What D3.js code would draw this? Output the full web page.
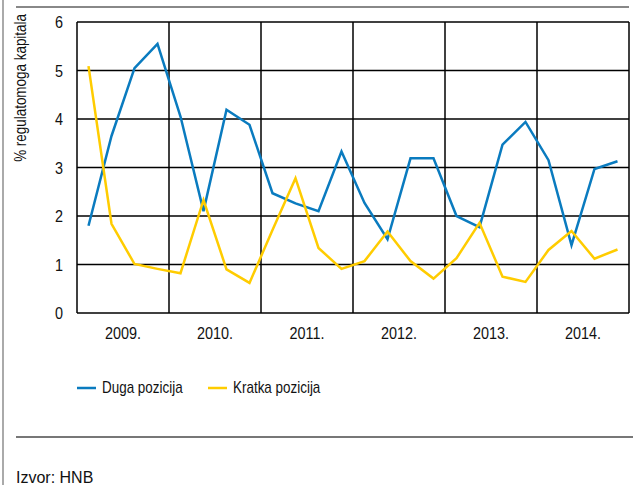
<!DOCTYPE html>
<html>
<head>
<meta charset="utf-8">
<script src="https://cdn.jsdelivr.net/npm/d3@7"></script>
<style>
  body { margin: 0; background: #fff; }
  svg text { font-family: "Liberation Sans Narrow", "Arial Narrow", "Liberation Sans", Arial, sans-serif; fill: #111; }
</style>
</head>
<body>
<svg id="chart" width="633" height="485"></svg>
<script>
// quarterly values 2009 Q1 - 2014 Q4
let years = ["2009.", "2010.", "2011.", "2012.", "2013.", "2014."];
let duga = [1.80, 3.65, 5.05, 5.55, 4.05, 2.10, 4.19, 3.88, 2.47, 2.26, 2.10, 3.33,
            2.27, 1.52, 3.19, 3.19, 2.00, 1.77, 3.47, 3.94, 3.15, 1.40, 2.97, 3.13];
let kratka = [5.09, 1.84, 1.01, 0.91, 0.82, 2.33, 0.90, 0.62, 1.71, 2.78, 1.34, 0.91,
              1.07, 1.68, 1.07, 0.71, 1.13, 1.86, 0.75, 0.64, 1.30, 1.69, 1.12, 1.31];
let yTicks = [0, 1, 2, 3, 4, 5, 6];
let seriesNames = ["Duga pozicija", "Kratka pozicija"];
let colors = ["#0a7bbf", "#ffcc00"];

let svg = d3.select("#chart");
let plotL = 77, plotR = 629, plotT = 22, plotB = 313;
let narrow = 0.84; // no narrow font installed, squeeze the regular one

let x = d3.scaleLinear().domain([0, 24]).range([plotL, plotR]);
let y = d3.scaleLinear().domain([0, 6]).range([plotB, plotT]);

// frame lines
svg.append("line").attr("x1", 3).attr("x2", 3).attr("y1", 0).attr("y2", 485)
    .attr("stroke", "#aaa").attr("stroke-width", 2);
svg.append("line").attr("x1", 16).attr("x2", 629).attr("y1", 7).attr("y2", 7)
    .attr("stroke", "#888").attr("stroke-width", 2);
svg.append("line").attr("x1", 16).attr("x2", 633).attr("y1", 437).attr("y2", 437)
    .attr("stroke", "#777").attr("stroke-width", 2);

// grid
let grid = svg.append("g");
grid.selectAll(".h").data(yTicks).join("line")
    .attr("x1", plotL).attr("x2", plotR)
    .attr("y1", d => y(d)).attr("y2", d => y(d))
    .attr("stroke", "#000").attr("stroke-width", 1.5);
grid.selectAll(".v").data(d3.range(0, 25, 4)).join("line")
    .attr("x1", d => x(d)).attr("x2", d => x(d))
    .attr("y1", plotT).attr("y2", plotB)
    .attr("stroke", "#000").attr("stroke-width", 1.5);

// y tick labels
svg.selectAll(".yt").data(yTicks).join("text")
    .attr("transform", d => `translate(63,${y(d) + 6}) scale(0.9,1)`)
    .attr("text-anchor", "end").attr("font-size", 16)
    .text(d => d);

// x labels
svg.selectAll(".xt").data(years).join("text")
    .attr("transform", (d, i) => `translate(${x(i * 4 + 2)},339) scale(0.9,1)`)
    .attr("text-anchor", "middle").attr("font-size", 16)
    .text(d => d);

// y title
svg.append("text")
    .attr("transform", `translate(26,14) rotate(-90) scale(${narrow},1)`)
    .attr("text-anchor", "end").attr("font-size", 16)
    .text("% regulatomoga kapitala");

// lines
let line = d3.line().x((d, i) => x(i + 0.5)).y(d => y(d));
[duga, kratka].forEach(function (s, k) {
    svg.append("path").datum(s)
        .attr("d", line)
        .attr("fill", "none")
        .attr("stroke", colors[k])
        .attr("stroke-width", 2.5)
        .attr("stroke-linejoin", "miter");
});

// legend
let legX = [77, 208];
seriesNames.forEach(function (n, k) {
    svg.append("line").attr("x1", legX[k]).attr("x2", legX[k] + 19)
        .attr("y1", 388).attr("y2", 388)
        .attr("stroke", colors[k]).attr("stroke-width", 2.5);
    svg.append("text")
        .attr("transform", `translate(${legX[k] + 25},393) scale(${narrow},1)`)
        .attr("font-size", 16).text(n);
});

svg.append("text").attr("x", 16).attr("y", 483)
    .style("font-family", "'Liberation Sans', Arial, sans-serif")
    .attr("font-size", 16).text("Izvor: HNB");
</script>
</body>
</html>
